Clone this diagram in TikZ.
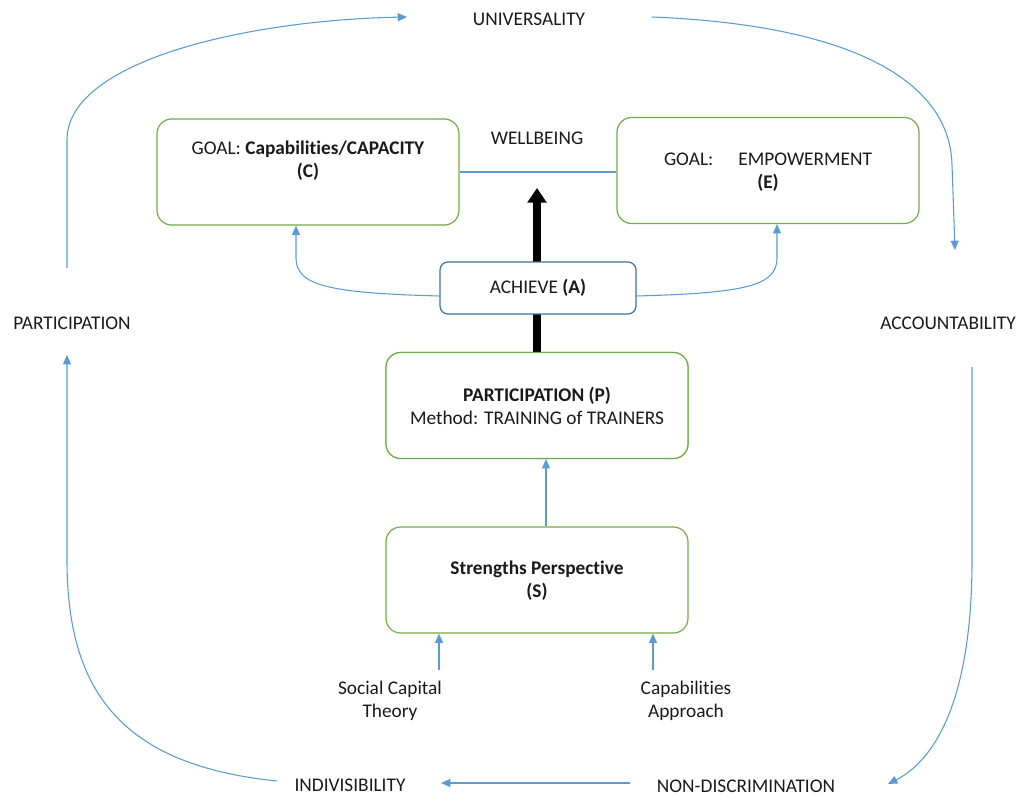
\documentclass[tikz,border=0pt]{standalone}
\usepackage{fontspec}
\setmainfont[Ligatures=NoCommon]{Carlito}
\usetikzlibrary{arrows.meta,calc}
\definecolor{cblue}{HTML}{5B9BD5}
\definecolor{cgreen}{HTML}{70AD47}
\definecolor{dblue}{HTML}{41719C}
\definecolor{ctext}{HTML}{1A1A1A}
\begin{document}
\begin{tikzpicture}[x=0.75pt,y=-0.75pt,
  every node/.style={font=\fontsize{14.5pt}{17pt}\selectfont, text=ctext, align=center},
  gbox/.style={draw=cgreen, line width=0.9pt, rounded corners=11pt, fill=white, minimum width=226.5pt, minimum height=79.5pt, inner sep=0pt},
  abox/.style={draw=dblue, line width=0.9pt, rounded corners=6pt, fill=white, minimum width=147pt, minimum height=39pt, inner sep=0pt},
  lbl/.style={inner sep=1pt},
  bl/.style={draw=cblue, line width=0.8pt},
  bla/.style={bl, -{Triangle[length=7pt,width=6pt]}},
  bigarrow/.style={draw=black, line width=6pt, -{Triangle[length=11pt,width=14pt]}}
]
\useasboundingbox (0,0) rectangle (1019,796);

% thick arrow (behind boxes)
\coordinate (wtop) at (537,188);
\node[gbox] (P) at (537,405.5) {};
\draw[bigarrow] (P.north) -- (wtop);

% boxes
\node[gbox] (C) at (308,172) {};
\node[gbox] (E) at (768,170.5) {};
\node[abox] (A) at (538,288) {ACHIEVE \textbf{(A)}};
\node[gbox] (P2) at (537,405.5) {};
\node[gbox] (S) at (537,580) {};

% box texts
\node[lbl] (Ct) at (308,161) {GOAL: \textbf{Capabilities/CAPACITY}\\\textbf{(C)}};
\node[lbl] (Et) at (768,172) {GOAL:\hspace{1.3em}EMPOWERMENT\\\textbf{(E)}};
\node[lbl] (Pt) at (537,406) {\textbf{PARTICIPATION (P)}\\Method: TRAINING of TRAINERS};
\node[lbl] (St) at (537,581) {\textbf{Strengths Perspective}\\\textbf{(S)}};

\node[lbl] (W) at (537,138) {WELLBEING};
\node[lbl] (SCT) at (390,701) {Social Capital\\Theory};
\node[lbl] (CAP) at (686,701) {Capabilities\\Approach};

% outer labels
\node[lbl] (U) at (529,19) {UNIVERSALITY};
\node[lbl] (AC) at (948,323) {ACCOUNTABILITY};
\node[lbl] (ND) at (746,786) {NON-DISCRIMINATION};
\node[lbl] (IN) at (350,785) {INDIVISIBILITY};
\node[lbl] (PA) at (72,323) {PARTICIPATION};

% inner connectors
\draw[bl] (C.east) -- (C.east -| E.west);
\draw[bla] ($(A.west)+(0,8)$) .. controls (330,293) and (296,286) .. (296,258) -- ($(C.south)+(-12,0)$);
\draw[bla] ($(A.east)+(0,8)$) .. controls (745,293) and (777,286) .. (777,258) -- ($(E.south)+(9,0)$);
\draw[bla] ($(S.north)+(9,0)$) -- ($(P2.south)+(9,0)$);
\coordinate (sct) at (439,670);
\coordinate (cap) at (653,670);
\draw[bla] (sct) -- (sct |- S.south);
\draw[bla] (cap) -- (cap |- S.south);

% outer cycle
\coordinate (o1) at (67,268);
\coordinate (o1e) at (407,17);
\draw[bla] (o1) -- (67,140) .. controls (67,60) and (250,20) .. (o1e);
\coordinate (o2) at (652,17);
\coordinate (o2e) at (955,250);
\draw[bla] (o2) .. controls (850,25) and (950,80) .. (952,165) -- (o2e);
\coordinate (o3) at (972,367);
\coordinate (o3e) at (888,784);
\draw[bla] (o3) -- (972,560) .. controls (972,700) and (935,760) .. (o3e);
\coordinate (o4) at (630,783);
\coordinate (o4e) at (441,783);
\draw[bla] (o4) -- (o4e);
\coordinate (o5) at (277,781);
\coordinate (o5e) at (67,355);
\draw[bla] (o5) .. controls (120,765) and (67,690) .. (67,560) -- (o5e);
\end{tikzpicture}
\end{document}
